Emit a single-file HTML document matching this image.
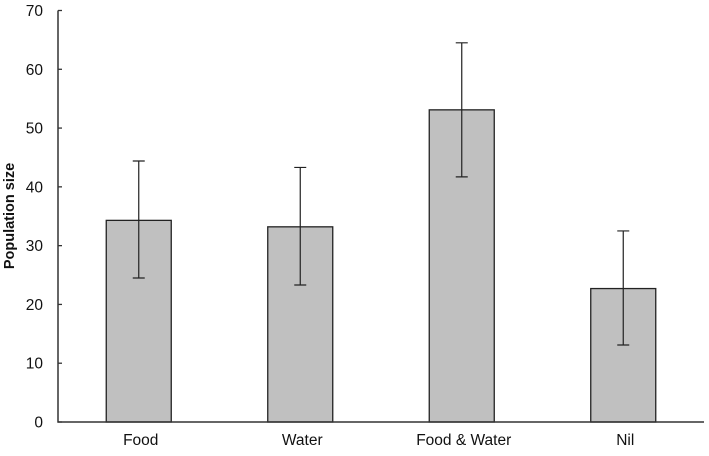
<!DOCTYPE html>
<html><head><meta charset="utf-8"><style>
html,body{margin:0;padding:0;background:#fff;}
svg{display:block;font-family:"Liberation Sans",Arial,sans-serif;}
</style></head><body>
<svg id="chart" width="709" height="456" viewBox="0 0 709 456"></svg>
<script>
const categories = ["Food", "Water", "Food & Water", "Nil"];
const values = [34.3, 33.2, 53.1, 22.7];
const errLow = [24.5, 23.3, 41.7, 13.1];
const errHigh = [44.4, 43.3, 64.5, 32.5];
const yTicks = [0, 10, 20, 30, 40, 50, 60, 70];

const NS = "http://www.w3.org/2000/svg";
const svg = document.getElementById("chart");
const x0 = 58, x1 = 704, yTop = 10.5, yBot = 422, yMax = 70;
const y = v => yBot - (v / yMax) * (yBot - yTop);
const step = (x1 - x0) / categories.length;
const xc = i => x0 + step * (i + 0.5);
const barW = 65;
function mk(tag, attrs) {
  const e = document.createElementNS(NS, tag);
  for (const k in attrs) e.setAttribute(k, attrs[k]);
  svg.appendChild(e);
  return e;
}
categories.forEach((c, i) => {
  const b = mk("rect", {x: xc(i) - barW / 2, y: y(values[i]), width: barW, height: yBot - y(values[i]), fill: "#c0c0c0", stroke: "#222", "stroke-width": 1.3});
  
  
  const g = mk("path", {d: `M${xc(i)},${y(errLow[i])}V${y(errHigh[i])}M${xc(i)-6},${y(errLow[i])}H${xc(i)+6}M${xc(i)-6},${y(errHigh[i])}H${xc(i)+6}`, stroke: "#222", "stroke-width": 1.2, fill: "none"});
  
  
  const t = mk("text", {x: xc(i) + 2, y: 445, "text-anchor": "middle", "font-size": 15.5, fill: "#111"});
  t.textContent = c;
  
  
});
const ax = mk("path", {d: `M${x0},${yTop}V${yBot}H${x1}`, stroke: "#333", "stroke-width": 1.5, fill: "none"});


yTicks.forEach(v => {
  const tk = mk("line", {x1: x0, x2: x0 + 4, y1: y(v), y2: y(v), stroke: "#333", "stroke-width": 1.3});
  
  
  const t = mk("text", {x: 43, y: y(v) + 5.5, "text-anchor": "end", "font-size": 15.5, fill: "#111"});
  t.textContent = v;
  
  
});
const yt = mk("text", {x: 0, y: 0, transform: "translate(14,216) rotate(-90)", "text-anchor": "middle", "font-size": 14.5, "font-weight": "bold", fill: "#111"});
yt.textContent = "Population size";


</script>
</body></html>
